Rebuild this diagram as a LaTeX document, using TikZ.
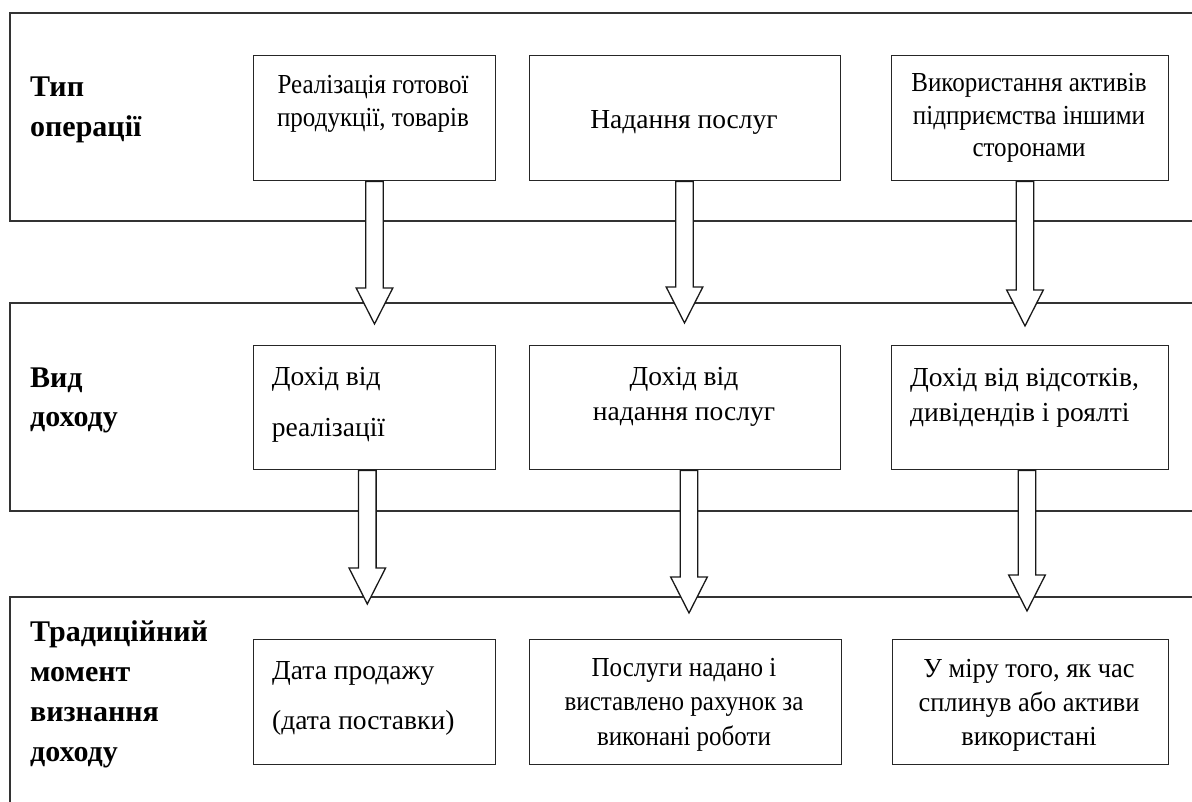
\documentclass[tikz,border=0pt]{standalone}
\usepackage{fontspec}
\setmainfont{Liberation Serif}
\newfontfamily\condA[FakeStretch=0.91]{Liberation Serif}
\newfontfamily\condB[FakeStretch=0.96]{Liberation Serif}
\usetikzlibrary{calc}
\newcommand\boxfont{\fontsize{27.5}{33.4}\selectfont}
\newcommand\labfont{\fontsize{30}{39.5}\selectfont\bfseries}
\newcommand\blockarrow[2]{%
  \draw[blockarr] let \p1=(#1.south -| #2), \p2=(#2) in
    (\x1-8.8pt,\y1) -- (\x1-8.8pt,\y2+36pt) -- (\x1-18.3pt,\y2+36pt) -- (\x2,\y2)
    -- (\x1+18.3pt,\y2+36pt) -- (\x1+8.8pt,\y2+36pt) -- (\x1+8.8pt,\y1) -- cycle;}
\begin{document}
\begin{tikzpicture}[x=1pt,y=-1pt,
  panel/.style={draw=black!80, line width=1.4pt},
  box/.style={draw=black!85, line width=1.4pt, anchor=north west, inner sep=0pt},
  blockarr/.style={draw=black!90, line width=1.3pt, fill=white, line join=miter},
  btext/.style={font=\boxfont, inner sep=0pt, anchor=base},
  ltext/.style={font=\boxfont, inner sep=0pt, anchor=base west, align=left},
  lab/.style={font=\labfont, inner sep=0pt, anchor=base west, align=left}]
\clip (0,0) rectangle (1192,801);
\fill[white] (0,0) rectangle (1192,801);
% panels
\draw[panel] (1210,13) -- (10,13) -- (10,221) -- (1210,221);
\draw[panel] (1210,303) -- (10,303) -- (10,511) -- (1210,511);
\draw[panel] (1210,597) -- (10,597) -- (10,820);
% row 1
\node[box, minimum width=242pt, minimum height=125pt] (a1) at (253,55) {};
\node[box, minimum width=311.5pt, minimum height=125pt] (b1) at (528.5,55) {};
\node[box, minimum width=276.5pt, minimum height=125pt] (c1) at (891,55) {};
% row 2
\node[box, minimum width=242pt, minimum height=124pt] (a2) at (253,345) {};
\node[box, minimum width=311.5pt, minimum height=124pt] (b2) at (528.5,345) {};
\node[box, minimum width=276.5pt, minimum height=124pt] (c2) at (891,345) {};
% row 3
\node[box, minimum width=242pt, minimum height=125pt] (a3) at (253,639) {};
\node[box, minimum width=312pt, minimum height=125pt] (b3) at (528.5,639) {};
\node[box, minimum width=276pt, minimum height=125pt] (c3) at (892,639) {};
% labels (anchored at the baseline of the last line)
\node[lab] (l1) at (30,136) {Тип\\операції};
\node[lab] (l2) at (30,426.7) {Вид\\доходу};
\node[lab, font=\fontsize{30}{40}\selectfont\bfseries] (l3) at (30,761.7) {Традиційний\\момент\\визнання\\доходу};
% box texts
\node[btext, align=center, font=\condA\fontsize{27.5}{33.4}\selectfont] (ta1) at (373,126.7) {Реалізація готової\\продукції, товарів};
\node[btext] (tb1) at (684,128) {Надання послуг};
\node[btext, align=center, font=\condA\fontsize{27.5}{32.5}\selectfont] (tc1) at (1029,156.7) {Використання активів\\підприємства іншими\\сторонами};
\node[ltext] (ta2) at (271.7,436.7) {Дохід від\\[18pt]реалізації};
\node[btext, align=center, font=\fontsize{27.5}{35}\selectfont] (tb2) at (684,420) {Дохід від\\надання послуг};
\node[ltext, font=\fontsize{27.5}{35}\selectfont] (tc2) at (910,421.7) {Дохід від відсотків,\\дивідендів і роялті};
\node[ltext] (ta3) at (272,729) {Дата продажу\\[16pt](дата поставки)};
\node[btext, align=center, font=\condA\fontsize{27.5}{34.2}\selectfont] (tb3) at (684,745) {Послуги надано і\\виставлено рахунок за\\виконані роботи};
\node[btext, align=center, font=\condB\fontsize{27.5}{33.7}\selectfont] (tc3) at (1029,745) {У міру того, як час\\сплинув або активи\\використані};
% arrow tips
\coordinate (t1) at (374.5,324);
\coordinate (t2) at (684.5,323);
\coordinate (t3) at (1025,326);
\coordinate (t4) at (367.3,604);
\coordinate (t5) at (689,613);
\coordinate (t6) at (1027,611);
\blockarrow{a1}{t1}
\blockarrow{b1}{t2}
\blockarrow{c1}{t3}
\blockarrow{a2}{t4}
\blockarrow{b2}{t5}
\blockarrow{c2}{t6}
\end{tikzpicture}
\end{document}
